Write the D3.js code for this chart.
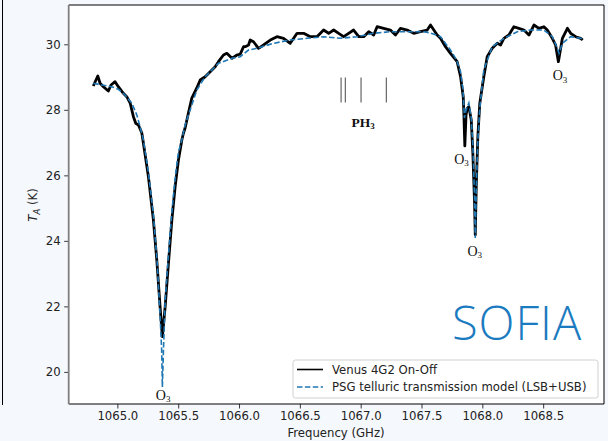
<!DOCTYPE html>
<html><head><meta charset="utf-8">
<script src="https://cdn.jsdelivr.net/npm/d3@7"></script>
<style>
html,body{margin:0;padding:0;background:#f5f8fd;}
svg{display:block;}
</style></head>
<body>
<svg id="c" width="608" height="441"></svg>
<script>
// Observed spectrum (Venus 4G2 On-Off)
const obsFreq = [1064.802,1064.839,1064.858,1064.885,1064.926,1064.948,1064.981,1065.008,1065.049,1065.077,1065.105,1065.132,1065.151,1065.173,1065.201,1065.214,1065.255,1065.296,1065.324,1065.351,1065.370,1065.393,1065.420,1065.448,1065.475,1065.502,1065.530,1065.543,1065.557,1065.584,1065.612,1065.653,1065.681,1065.722,1065.763,1065.804,1065.831,1065.872,1065.900,1065.942,1065.983,1066.010,1066.037,1066.051,1066.078,1066.092,1066.119,1066.160,1066.202,1066.257,1066.312,1066.366,1066.421,1066.477,1066.531,1066.586,1066.641,1066.695,1066.737,1066.778,1066.819,1066.860,1066.901,1066.942,1066.984,1067.025,1067.066,1067.107,1067.135,1067.189,1067.244,1067.286,1067.327,1067.382,1067.436,1067.491,1067.547,1067.574,1067.601,1067.629,1067.656,1067.697,1067.738,1067.793,1067.821,1067.843,1067.848,1067.856,1067.866,1067.876,1067.889,1067.909,1067.922,1067.936,1067.942,1067.950,1067.963,1067.979,1068.012,1068.040,1068.081,1068.123,1068.150,1068.177,1068.218,1068.259,1068.300,1068.342,1068.383,1068.424,1068.465,1068.506,1068.534,1068.575,1068.602,1068.625,1068.658,1068.699,1068.726,1068.767,1068.808,1068.825];
const obsTA = [28.727,29.033,28.810,28.706,28.575,28.758,28.859,28.706,28.505,28.401,28.209,27.791,27.589,27.537,27.293,26.979,25.960,24.638,23.418,21.993,21.077,21.993,23.317,24.638,25.655,26.469,27.080,27.284,27.446,27.904,28.361,28.667,28.911,29.011,29.164,29.316,29.469,29.673,29.725,29.573,29.673,29.700,29.927,29.927,29.979,30.131,30.079,29.878,29.979,30.131,30.232,30.183,30.031,30.336,30.336,30.232,30.232,30.436,30.336,30.436,30.336,30.232,30.336,30.436,30.232,30.232,30.385,30.284,30.537,30.488,30.436,30.284,30.488,30.436,30.336,30.385,30.436,30.589,30.436,30.284,30.183,29.927,29.725,29.469,29.011,28.401,27.894,26.897,27.842,28.047,28.096,27.690,26.674,25.157,24.181,25.655,27.180,28.200,29.011,29.622,29.878,30.031,29.979,30.183,30.284,30.537,30.488,30.436,30.284,30.589,30.488,30.537,30.436,30.183,29.979,29.469,30.183,30.488,30.336,30.232,30.183,30.131];
// PSG telluric transmission model (LSB+USB)
const modFreq = [1064.802,1064.872,1064.954,1065.008,1065.063,1065.119,1065.160,1065.187,1065.214,1065.255,1065.296,1065.327,1065.351,1065.364,1065.370,1065.379,1065.393,1065.420,1065.448,1065.475,1065.502,1065.530,1065.557,1065.612,1065.653,1065.722,1065.831,1065.942,1066.010,1066.078,1066.147,1066.284,1066.421,1066.559,1066.695,1066.833,1066.970,1067.107,1067.244,1067.382,1067.519,1067.574,1067.656,1067.738,1067.788,1067.821,1067.841,1067.853,1067.866,1067.889,1067.909,1067.924,1067.936,1067.942,1067.950,1067.963,1067.979,1068.012,1068.081,1068.177,1068.287,1068.397,1068.506,1068.575,1068.617,1068.630,1068.658,1068.726,1068.808,1068.825];
const modTA = [28.810,28.758,28.706,28.627,28.453,28.200,27.843,27.486,27.080,26.103,24.791,23.357,21.739,20.672,19.542,20.672,22.198,23.571,24.883,25.920,26.713,27.080,27.537,28.148,28.605,29.011,29.420,29.573,29.622,29.826,29.878,30.031,30.131,30.183,30.232,30.183,30.232,30.336,30.385,30.385,30.385,30.345,30.232,29.826,29.521,29.164,28.605,27.751,27.995,28.209,27.751,26.774,25.248,24.089,25.554,27.080,28.056,29.216,29.927,30.183,30.385,30.436,30.436,30.232,29.878,29.725,30.031,30.232,30.183,30.162];

const xTicks = [1065.0,1065.5,1066.0,1066.5,1067.0,1067.5,1068.0,1068.5];
const yTicks = [20,22,24,26,28,30];
const xDomain = [1064.6, 1069.0];
const yDomain = [19.02, 31.2];

// annotations: O3 labels (freq, TA baseline)
const o3Freq = [1065.376, 1067.829, 1067.938, 1068.638];
const o3TA   = [19.146, 26.35, 23.54, 28.91];
const ph3Lines = [1066.839, 1066.874, 1067.003, 1067.211];
const ph3Range = [28.22, 28.99];
const ph3Label = [1067.02, 27.48];

const seriesNames = ["Venus 4G2 On-Off", "PSG telluric transmission model (LSB+USB)"];

const svg = d3.select("#c");
const L = 68.7, R = 604, T = 5, B = 404;
const x = d3.scaleLinear().domain(xDomain).range([L, R]);
const y = d3.scaleLinear().domain(yDomain).range([B, T]);

// odd left border line
svg.append("line").attr("x1",2.5).attr("x2",2.5).attr("y1",0).attr("y2",405).attr("stroke","#000").attr("stroke-width",1);

svg.append("rect").attr("x",L).attr("y",T).attr("width",R-L).attr("height",B-T).attr("fill","#fff");

const font = "DejaVu Sans, sans-serif";
const fs = 11.7;

// axes
const xAx = svg.append("g").attr("transform",`translate(0,${B})`)
  .call(d3.axisBottom(x).tickValues(xTicks).tickFormat(d3.format(".1f")).tickSize(4.5).tickPadding(3.5));
const yAx = svg.append("g").attr("transform",`translate(${L},0)`)
  .call(d3.axisLeft(y).tickValues(yTicks).tickFormat(d3.format("d")).tickSize(4.5).tickPadding(3.5));
[xAx,yAx].forEach(g=>{
  g.select(".domain").remove();
  g.selectAll("text").attr("font-family",font).attr("font-size",fs).attr("fill","#222");
  g.selectAll("line").attr("stroke","#222").attr("stroke-width",0.9);
});

// data lines
const clip = svg.append("clipPath").attr("id","clp").append("rect").attr("x",L).attr("y",T).attr("width",R-L).attr("height",B-T);
const line = d3.line().x(d=>x(d[0])).y(d=>y(d[1]));
const obs = obsFreq.map((f,i)=>[f,obsTA[i]]);
const mod = modFreq.map((f,i)=>[f,modTA[i]]);
svg.append("path").attr("d",line(obs)).attr("fill","none").attr("stroke","#000").attr("stroke-width",2.8).attr("stroke-linejoin","round").attr("clip-path","url(#clp)");
svg.append("path").attr("d",line(mod)).attr("fill","none").attr("stroke","#1f77b4").attr("stroke-width",1.6).attr("stroke-dasharray","5.5,2.4").attr("clip-path","url(#clp)");

// spines
svg.append("line").attr("x1",L).attr("x2",R).attr("y1",T).attr("y2",T).attr("stroke","#000").attr("stroke-width",1);
svg.append("line").attr("x1",R).attr("x2",R).attr("y1",T).attr("y2",B).attr("stroke","#000").attr("stroke-width",1);
svg.append("line").attr("x1",L).attr("x2",R).attr("y1",B).attr("y2",B).attr("stroke","#000").attr("stroke-width",1);
svg.append("line").attr("x1",L).attr("x2",L).attr("y1",T).attr("y2",B).attr("stroke","#7f7f7f").attr("stroke-width",1.8);

// PH3 lines
svg.selectAll(".ph3").data(ph3Lines).enter().append("line")
  .attr("x1",d=>x(d)).attr("x2",d=>x(d)).attr("y1",y(ph3Range[0])).attr("y2",y(ph3Range[1]))
  .attr("stroke","#666").attr("stroke-width",1.2);
const ph = svg.append("text").attr("x",x(ph3Label[0])).attr("y",y(ph3Label[1]))
  .attr("text-anchor","middle").attr("font-family","Liberation Serif, serif").attr("font-weight","bold").attr("font-size",13.5).attr("fill","#111");
ph.append("tspan").text("PH");
ph.append("tspan").attr("font-size",9).attr("dy",2.5).text("3");

// O3 labels
o3Freq.forEach((f,i)=>{
  const t = svg.append("text").attr("x",x(f)).attr("y",y(o3TA[i])).attr("text-anchor","middle")
    .attr("font-family","Liberation Serif, serif").attr("font-size",14).attr("fill","#111");
  t.append("tspan").text("O");
  t.append("tspan").attr("font-size",9).attr("dy",2.5).text("3");
});

// SOFIA
svg.append("text").attr("x",517).attr("y",340).attr("text-anchor","middle")
  .attr("font-family","Open Sans, sans-serif").attr("font-weight",300).attr("font-size",47).attr("letter-spacing",1)
  .attr("fill","#1b7bc0").text("SOFIA");

// legend
const lg = svg.append("g");
lg.append("rect").attr("x",293).attr("y",360).attr("width",305).attr("height",38).attr("rx",2.5)
  .attr("fill","#fff").attr("fill-opacity",0.8).attr("stroke","#d0d0d0").attr("stroke-width",1);
lg.append("line").attr("x1",297).attr("x2",323).attr("y1",369.5).attr("y2",369.5).attr("stroke","#000").attr("stroke-width",1.6);
lg.append("line").attr("x1",297).attr("x2",323).attr("y1",387).attr("y2",387).attr("stroke","#1f77b4").attr("stroke-width",1.6).attr("stroke-dasharray","5.5,2.4");
seriesNames.forEach((s,i)=>{
  lg.append("text").attr("x",332).attr("y",[373.7,391.3][i]).attr("font-family",font).attr("font-size",fs).attr("fill","#222").text(s);
});

// axis labels
svg.append("text").attr("x",336).attr("y",437).attr("text-anchor","middle").attr("font-family",font).attr("font-size",fs).attr("fill","#222").text("Frequency (GHz)");
const yl = svg.append("text").attr("transform","translate(37,205) rotate(-90)").attr("text-anchor","middle").attr("font-family",font).attr("font-size",fs).attr("fill","#222");
yl.append("tspan").attr("font-style","italic").text("T");
yl.append("tspan").attr("font-style","italic").attr("font-size",8.5).attr("dy",2.5).text("A");
yl.append("tspan").attr("dy",-2.5).text(" (K)");
</script>
</body></html>
